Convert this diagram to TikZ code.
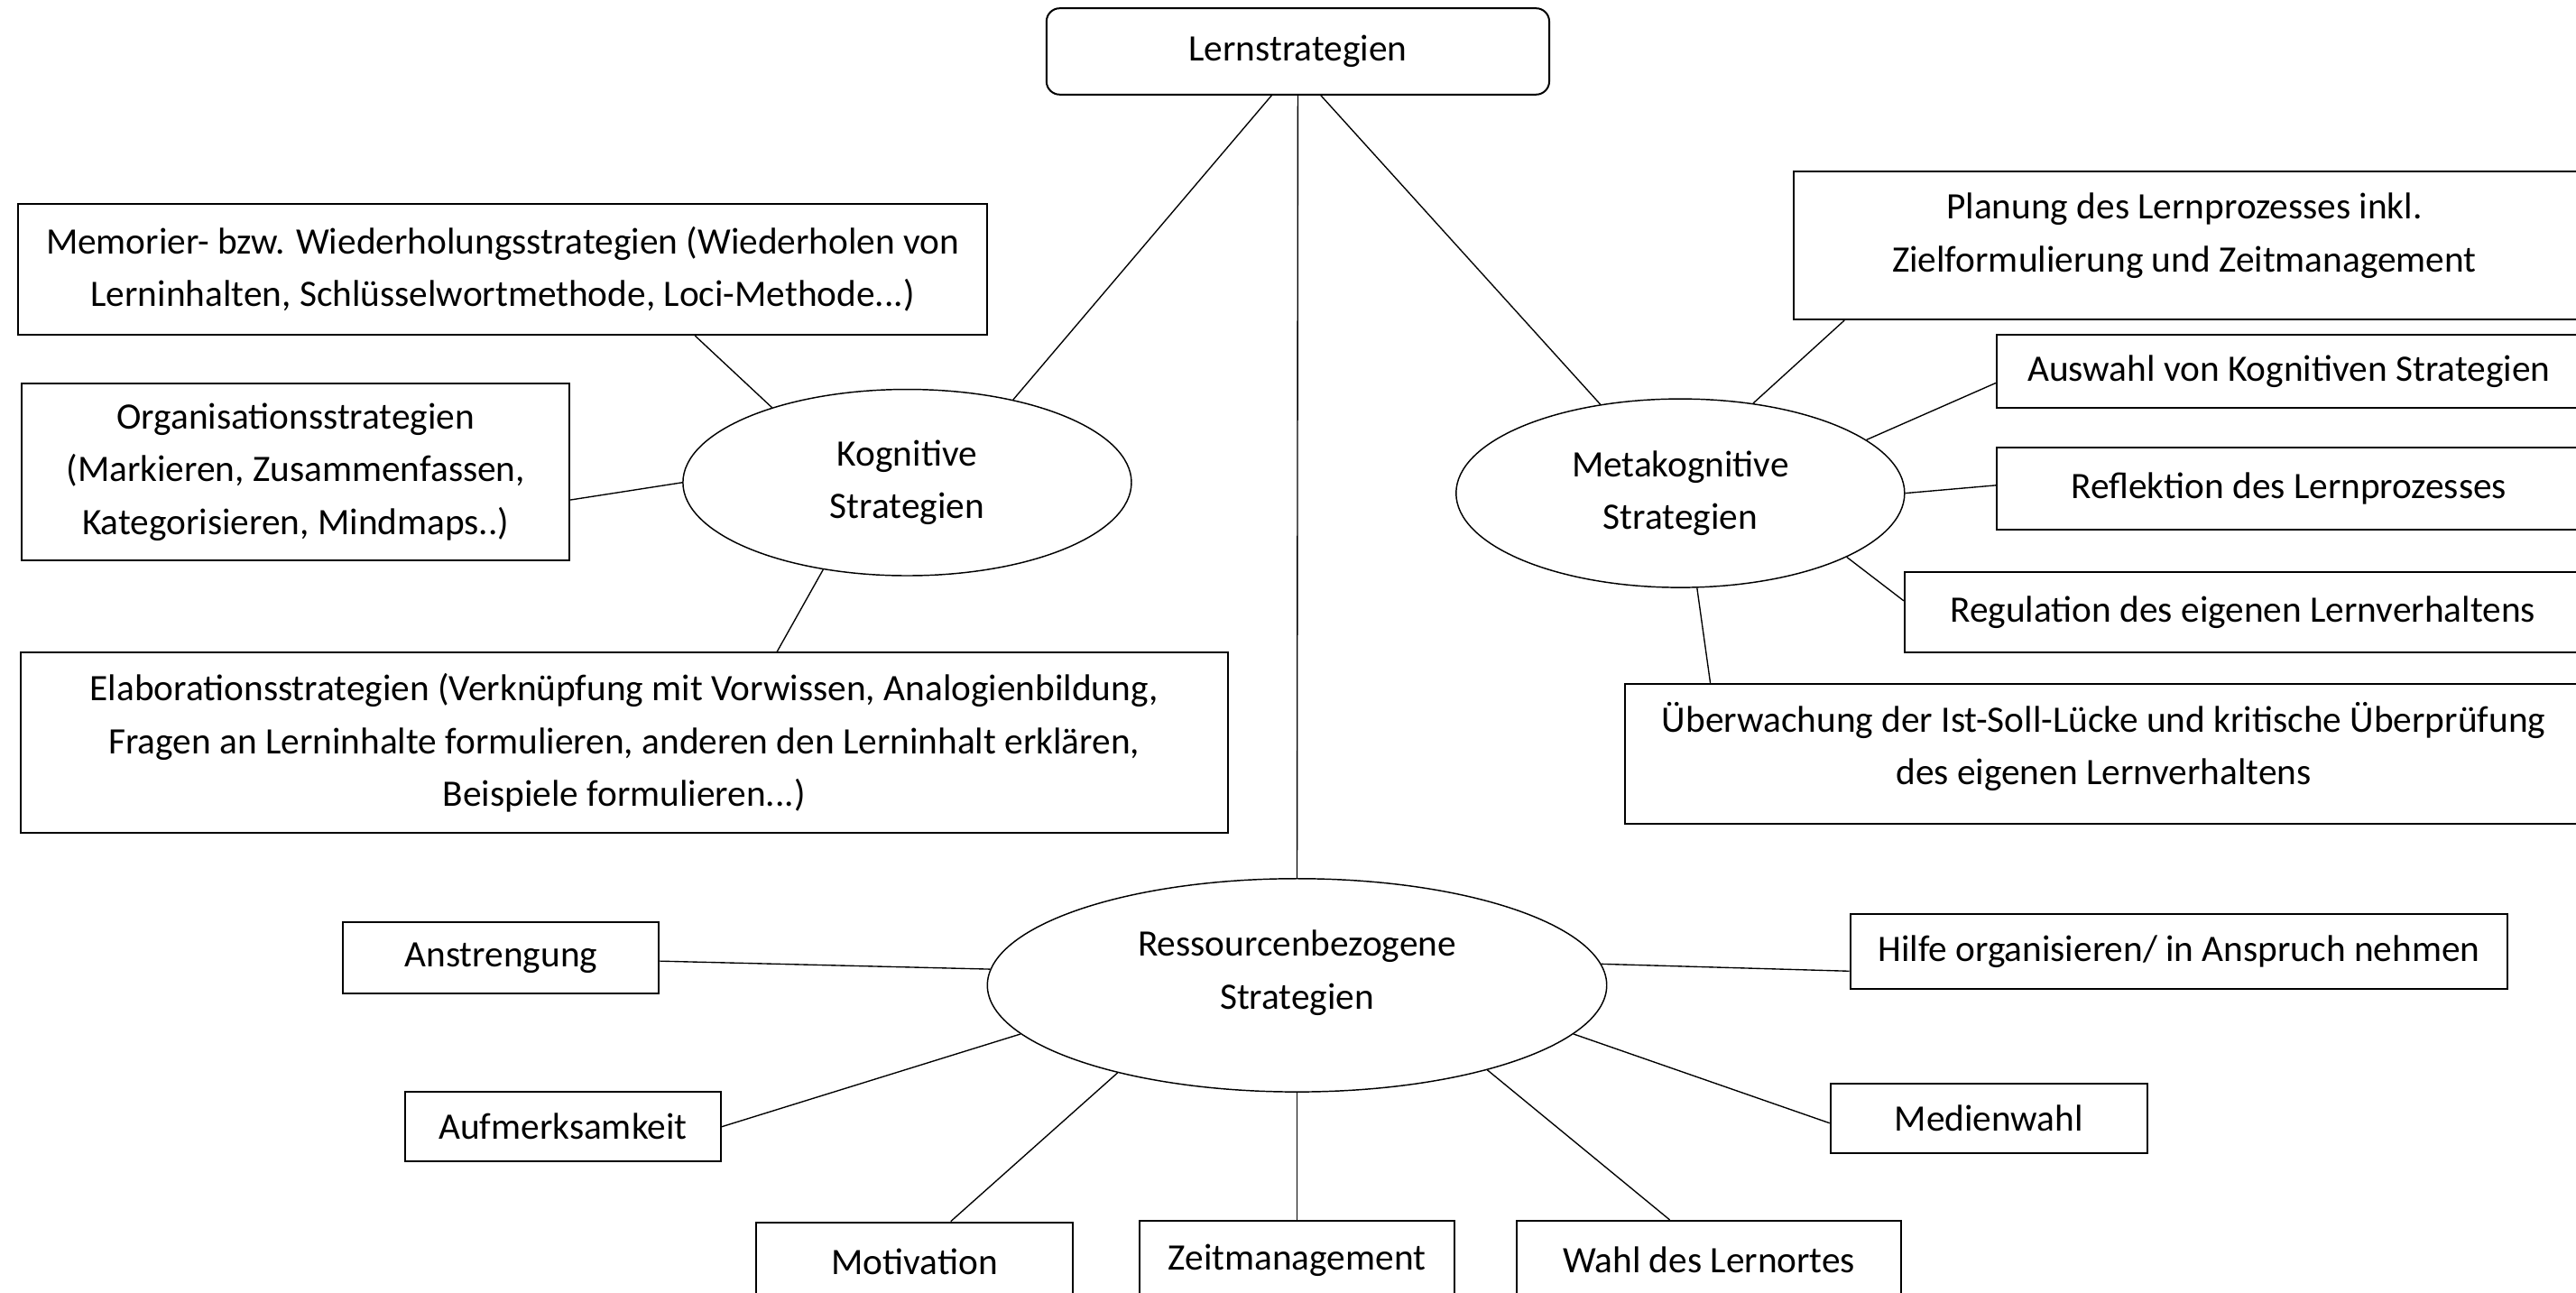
\documentclass[tikz,border=0pt]{standalone}
\usepackage{fontspec}
\setmainfont{Carlito}
\usetikzlibrary{shapes.geometric,calc}
\tikzset{every picture/.style={line width=0.75pt}}

\begin{document}
\begin{tikzpicture}[x=1pt,y=1pt,yscale=-1,
	box/.style={draw,line width=1.1pt,inner sep=0pt,align=center},
	oval/.style={draw,ellipse,line width=0.8pt,inner sep=0pt,align=center},
	txt/.style={inner sep=0pt,align=center},
	lnk/.style={line width=0.75pt},
	every node/.style={font=\fontsize{22.7}{32}\selectfont}]
	\useasboundingbox (0,0) rectangle (1568,786.5);
	\clip (0,0) rectangle (1568,786.5);

	%Shape: Rounded Rect
	\node[box,rounded corners=8pt,minimum width=306pt,minimum height=52.5pt] (lern) at (790,31.3) {Lernstrategien};

	%Shape: Ellipse
	\node[oval,minimum width=273pt,minimum height=113.4pt] (kog) at (552.2,293.7) {Kognitive\\Strategien};
	%Shape: Ellipse
	\node[oval,minimum width=273pt,minimum height=114.8pt] (meta) at (1022.8,300.2) {Metakognitive\\Strategien};
	%Shape: Ellipse
	\node[oval,minimum width=377pt,minimum height=129.8pt] (res) at (789.5,599.7) {};

	%Shape: Rectangle
	\node[box,minimum width=590pt,minimum height=79.5pt] (memo) at (306,164) {Memorier- bzw. Wiederholungsstrategien (Wiederholen von\\Lerninhalten, Schlüsselwortmethode, Loci-Methode...)};
	%Shape: Rectangle
	\node[box,minimum width=333.1pt,minimum height=107.9pt] (orga) at (180,287.3) {Organisationsstrategien\\(Markieren, Zusammenfassen,\\Kategorisieren, Mindmaps..)};
	%Shape: Rectangle
	\node[box,minimum width=734.8pt,minimum height=109.7pt] (elab) at (379.9,452.2) {Elaborationsstrategien (Verknüpfung mit Vorwissen, Analogienbildung,\\Fragen an Lerninhalte formulieren, anderen den Lerninhalt erklären,\\Beispiele formulieren...)};

	%Shape: Rectangle
	\node[box,minimum width=479.3pt,minimum height=90.2pt] (plan) at (1331.4,149.3) {};
	%Shape: Rectangle
	\node[box,minimum width=355.6pt,minimum height=44.6pt] (ausw) at (1393.2,226.1) {Auswahl von Kognitiven Strategien};
	%Shape: Rectangle
	\node[box,minimum width=355.6pt,minimum height=49.9pt] (refl) at (1393.2,297.4) {Reflektion des Lernprozesses};
	%Shape: Rectangle
	\node[box,minimum width=411.7pt,minimum height=49.3pt] (regu) at (1365.2,372.7) {Regulation des eigenen Lernverhaltens};
	%Shape: Rectangle
	\node[box,minimum width=582pt,minimum height=85pt] (uebw) at (1280,458.7) {};

	%Shape: Rectangle
	\node[box,minimum width=192.3pt,minimum height=43.7pt] (anst) at (305,583) {Anstrengung};
	%Shape: Rectangle
	\node[box,minimum width=192.4pt,minimum height=42.4pt] (aufm) at (342.6,685.8) {Aufmerksamkeit};
	%Shape: Rectangle
	\node[box,minimum width=192.9pt,minimum height=48pt] (moti) at (556.7,768) {Motivation};
	%Shape: Rectangle
	\node[box,minimum width=191.6pt,minimum height=48pt] (zeit) at (789.5,767) {Zeitmanagement};
	%Shape: Rectangle
	\node[box,minimum width=233.9pt,minimum height=48pt] (wahl) at (1040.3,767) {Wahl des Lernortes};
	%Shape: Rectangle
	\node[box,minimum width=192.8pt,minimum height=42.1pt] (medi) at (1210.6,680.6) {Medienwahl};
	%Shape: Rectangle
	\node[box,minimum width=400.3pt,minimum height=45.9pt] (hilf) at (1326.3,579.1) {Hilfe organisieren/ in Anspruch nehmen};

	% Text Node
	\node[txt] (plantxt) at (1329.6,143.4) {Planung des Lernprozesses inkl.\\Zielformulierung und Zeitmanagement};
	% Text Node
	\node[txt] (uebwtxt) at (1280.5,454.3) {Überwachung der Ist-Soll-Lücke und kritische Überprüfung\\des eigenen Lernverhaltens};
	% Text Node
	\node[txt] (restxt) at (789.5,592.2) {Ressourcenbezogene\\Strategien};

	%Straight Lines
	\draw[lnk] ($(lern.south)+(-16,0)$) -- (kog.38.2);
	\draw[lnk] (lern.south) -- (res.north);
	\draw[lnk] ($(lern.south)+(14,0)$) -- (meta.132.5);
	%Straight Lines
	\draw[lnk] ($(memo.south)+(117,0)$) -- (kog.151.6);
	\draw[lnk] ($(orga.east)+(0,17)$) -- (kog.180);
	\draw[lnk] (kog.226) -- ($(elab.north)+(93,0)$);
	%Straight Lines
	\draw[lnk] ($(plan.south west)+(31.5,0)$) -- (meta.51.2);
	\draw[lnk] ($(ausw.west)+(0,7)$) -- (meta.16.9);
	\draw[lnk] ($(refl.west)+(0,-2)$) -- (meta.0.5);
	\draw[lnk] ($(regu.west)+(0,-7)$) -- (meta.339.2);
	\draw[lnk] ($(uebw.north west)+(52.6,0)$) -- (meta.280.1);
	%Straight Lines
	\draw[lnk] ($(anst.east)+(0,2)$) -- (res.177.5);
	\draw[lnk] (aufm.east) -- (res.190.2);
	\draw[lnk] ($(moti.north)+(22,0)$) -- (res.206.3);
	\draw[lnk] (zeit.north) -- (res.south);
	\draw[lnk] ($(wahl.north)+(-24,0)$) -- (res.336.2);
	\draw[lnk] ($(medi.west)+(0,3)$) -- (res.350);
	\draw[lnk] ($(hilf.west)+(0,12)$) -- (res.4.8);

\end{tikzpicture}
\end{document}
